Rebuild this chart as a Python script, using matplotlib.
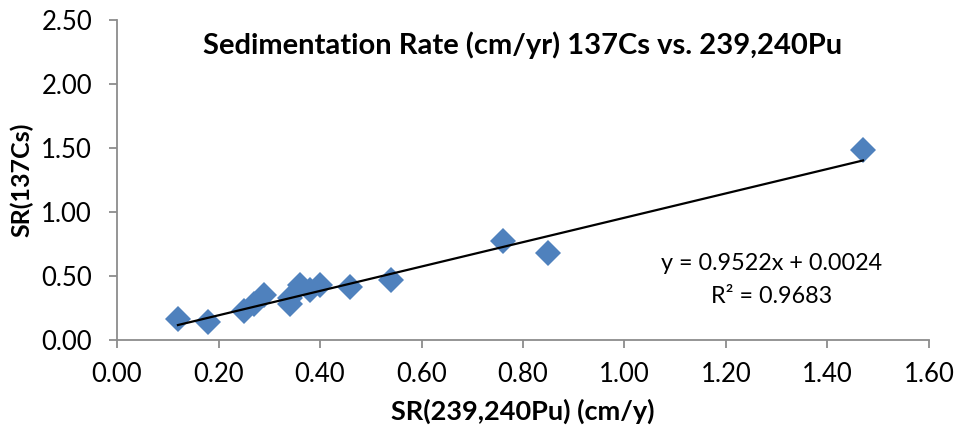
import numpy as np
import matplotlib
matplotlib.use('Agg')
import matplotlib.pyplot as plt

# Sedimentation rates (cm/yr) from 239,240Pu and 137Cs profiles
sr_pu = [0.12, 0.18, 0.25, 0.27, 0.29, 0.34, 0.34, 0.36, 0.38, 0.40, 0.46, 0.54, 0.76, 0.85, 1.47]
sr_cs = [0.16, 0.14, 0.23, 0.28, 0.35, 0.28, 0.33, 0.43, 0.39, 0.43, 0.41, 0.47, 0.77, 0.68, 1.48]

# Linear fit as reported
slope = 0.9522
intercept = 0.0024
r_squared = 0.9683

x_ticks = np.arange(0, 1.61, 0.2)
y_ticks = np.arange(0, 2.51, 0.5)

plt.rcParams['font.family'] = ['Lato', 'DejaVu Sans']

fig = plt.figure(figsize=(9.57, 4.32), dpi=100)
ax = fig.add_axes([0.1223, 0.213, 0.8484, 0.741])

ax.plot(sr_pu, sr_cs, 'D', color='#4F81BD', markersize=13, markeredgewidth=0, zorder=2)

fit_x = np.array([min(sr_pu), max(sr_pu)])
ax.plot(fit_x, slope * fit_x + intercept, color='black', linewidth=1.6, zorder=3)

ax.text(1.29, 0.60, 'y = {:.4f}x + {:.4f}'.format(slope, intercept),
        ha='center', va='center', fontsize=16.8)
ax.text(1.29, 0.34, 'R² = {:.4f}'.format(r_squared),
        ha='center', va='center', fontsize=16.8)

ax.set_xlim(0, 1.6)
ax.set_ylim(0, 2.5)
ax.set_xticks(x_ticks)
ax.set_yticks(y_ticks)
ax.set_xticklabels(['{:.2f}'.format(t) for t in x_ticks])
ax.set_yticklabels(['{:.2f}'.format(t) for t in y_ticks])
ax.tick_params(axis='both', labelsize=18.5, color='#8C8C8C', length=6, width=1.3)
ax.tick_params(axis='x', pad=10)
ax.tick_params(axis='y', pad=12)

for side in ['top', 'right']:
    ax.spines[side].set_visible(False)
for side in ['left', 'bottom']:
    ax.spines[side].set_color('#8C8C8C')
    ax.spines[side].set_linewidth(1.3)

ax.set_xlabel('SR(239,240Pu) (cm/y)', fontsize=19.5, fontweight='bold')
ax.set_ylabel('SR(137Cs)', fontsize=18, fontweight='bold')
ax.xaxis.set_label_coords(0.5, -0.222)
ax.yaxis.set_label_coords(-0.117, 0.5)
ax.xaxis.label.set_va('center')
ax.yaxis.label.set_va('center')
fig.text(0.5465, 0.896, 'Sedimentation Rate (cm/yr) 137Cs vs. 239,240Pu',
         ha='center', va='center', fontsize=21, fontweight='bold')

fig.savefig('out.png', dpi=100)
